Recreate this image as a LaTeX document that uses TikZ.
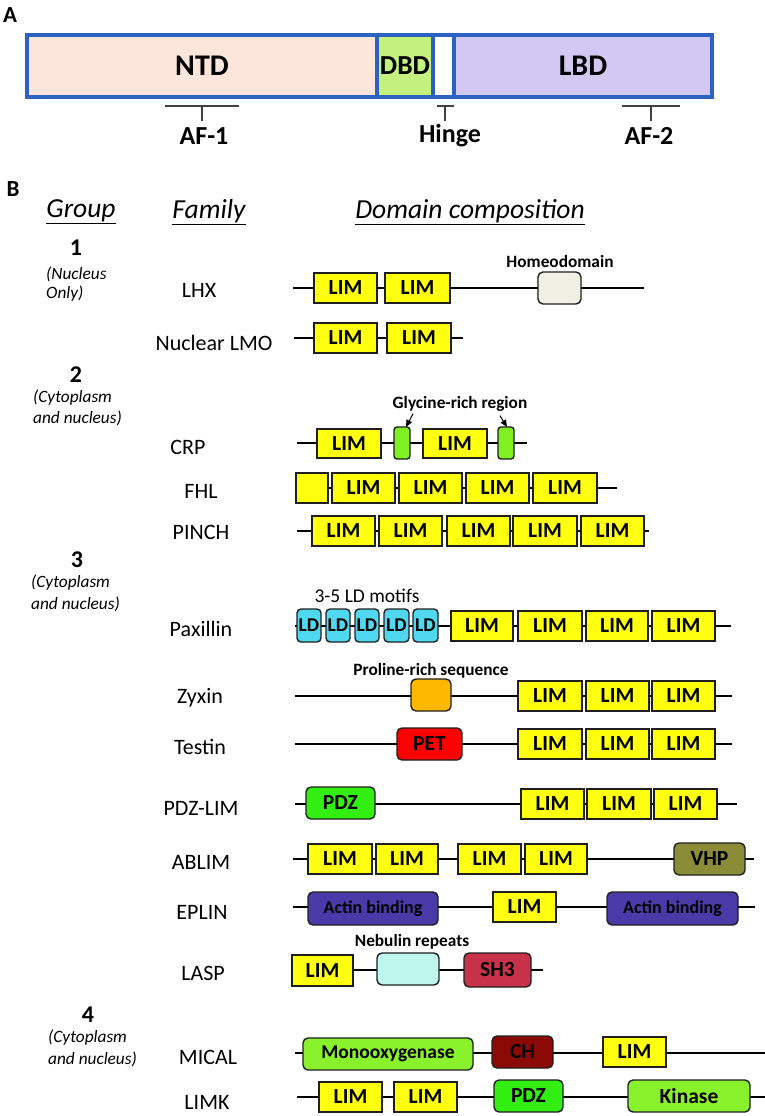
\documentclass[tikz,border=0pt]{standalone}
\usepackage{fontspec}
\setmainfont{Carlito}
\usetikzlibrary{arrows.meta}
\definecolor{limY}{HTML}{FFFF10}
\definecolor{hdC}{HTML}{F0F0E4}
\definecolor{glyG}{HTML}{80F020}
\definecolor{ldC}{HTML}{50D8F0}
\definecolor{proO}{HTML}{FFB800}
\definecolor{petR}{HTML}{FF0000}
\definecolor{pdzG}{HTML}{33EE11}
\definecolor{vhpO}{HTML}{8A8C38}
\definecolor{actI}{HTML}{4A3AA8}
\definecolor{nebC}{HTML}{BFF6EE}
\definecolor{shR}{HTML}{C83248}
\definecolor{monoG}{HTML}{8AF22C}
\definecolor{chR}{HTML}{8C0A06}
\definecolor{ntdC}{HTML}{FCE6DC}
\definecolor{dbdC}{HTML}{C4F07E}
\definecolor{lbdC}{HTML}{D2C8F2}
\definecolor{barB}{HTML}{2E62C0}
\newcommand\fsz[2]{\fontsize{#1}{#2}\selectfont}
\newcommand\dbox[7]{%
  \pgfmathsetmacro\dbcx{(#4+#5)/2}%
  \pgfmathsetmacro\dbcy{(#6+#7)/2}%
  \pgfmathsetmacro\dbw{#5-#4}%
  \pgfmathsetmacro\dbh{#7-#6}%
  \node[#2, minimum width=\dbw pt, minimum height=\dbh pt] (#1) at (\dbcx,\dbcy) {#3};}
\tikzset{
  prot/.style={line width=2pt, black},
  dom/.style={draw=black!88, line width=1.4pt, inner sep=0pt, outer sep=0pt, text=black,
     font=\bfseries\fsz{21.5}{24}},
  lim/.style={dom, fill=limY},
  rdom/.style={dom, rounded corners=5pt},
  seg/.style={draw=barB, line width=3.2pt, inner sep=0pt, outer sep=0pt, font=\bfseries\fsz{30}{34}},
  brk/.style={line width=1.4pt, black!75},
  blab/.style={inner sep=0pt, font=\bfseries\fsz{26}{30}},
  fam/.style={inner sep=0pt, font=\fsz{22}{26}},
  hdr/.style={inner sep=0pt, font=\itshape\fsz{27.5}{32}},
  gnum/.style={inner sep=0pt, font=\bfseries\fsz{24}{28}},
  gtxt/.style={inner sep=0pt, anchor=west, font=\itshape\fsz{17.3}{20}},
  small/.style={inner sep=0pt, font=\bfseries\fsz{17.3}{20}},
  ldbox/.style={rdom, fill=ldC, rounded corners=4pt, font=\bfseries\fsz{19.5}{22}},
  arr/.style={-{Triangle[length=7pt,width=6pt]}, line width=1pt},
  panel/.style={inner sep=0pt, font=\bfseries\fsz{23}{27}}
}
\begin{document}
\begin{tikzpicture}[x=1pt,y=-1pt]
\useasboundingbox (0,0) rectangle (765,1116);
% ---------- Panel A ----------
\node[panel] (pA) at (10,15) {A};
\dbox{ntd}{seg, fill=ntdC}{NTD}{27}{377}{35}{97}
\dbox{dbd}{seg, fill=dbdC, font=\bfseries\fsz{27.5}{32}}{DBD}{377}{433}{35}{97}
\dbox{hng}{seg, fill=white}{}{433}{454}{35}{97}
\dbox{lbd}{seg, fill=lbdC}{LBD}{454}{712}{35}{97}
\coordinate (af1l) at (165,106); \coordinate (af1r) at (239,106);
\coordinate (af1m) at (202,106); \coordinate (af1t) at (202,121);
\draw[brk] (af1l) -- (af1r); \draw[brk] (af1m) -- (af1t);
\node[blab] (af1) at (204,136) {AF-1};
\coordinate (hgl) at (437,106); \coordinate (hgr) at (454,106);
\coordinate (hgm) at (445,106); \coordinate (hgt) at (445,121);
\draw[brk] (hgl) -- (hgr); \draw[brk] (hgm) -- (hgt);
\node[blab] (hinge) at (450,136) {Hinge};
\coordinate (af2l) at (622,106); \coordinate (af2r) at (680,106);
\coordinate (af2m) at (651,106); \coordinate (af2t) at (651,121);
\draw[brk] (af2l) -- (af2r); \draw[brk] (af2m) -- (af2t);
\node[blab] (af2) at (649,136) {AF-2};
% ---------- Panel B headers ----------
\node[panel] (pB) at (13,189) {B};
\node[hdr] (hgrp) at (81,212) {\underline{Group}};
\node[hdr] (hfam) at (209,212) {\underline{Family}};
\node[hdr] (hdom) at (470,212) {\underline{Domain composition}};
% groups
\node[gnum] (g1n) at (76,248) {1};
\node[gtxt] (g1a) at (46,274) {(Nucleus};
\node[gtxt] (g1b) at (46,294) {Only)};
\node[gnum] (g2n) at (76,375) {2};
\node[gtxt] (g2a) at (33,398) {(Cytoplasm};
\node[gtxt] (g2b) at (33,418) {and nucleus)};
\node[gnum] (g3n) at (77,560) {3};
\node[gtxt] (g3a) at (31,583) {(Cytoplasm};
\node[gtxt] (g3b) at (31,604) {and nucleus)};
\node[gnum] (g4n) at (88,1015) {4};
\node[gtxt] (g4a) at (48,1038) {(Cytoplasm};
\node[gtxt] (g4b) at (48,1059) {and nucleus)};
% families
\node[fam] (fLHX) at (199,290) {LHX};
\node[fam] (fLMO) at (214,343) {Nuclear LMO};
\node[fam] (fCRP) at (188,447) {CRP};
\node[fam] (fFHL) at (201,491) {FHL};
\node[fam] (fPIN) at (201,532) {PINCH};
\node[fam] (fPAX) at (201,629) {Paxillin};
\node[fam] (fZYX) at (200,698) {Zyxin};
\node[fam] (fTES) at (200,747) {Testin};
\node[fam] (fPDZ) at (201,808) {PDZ-LIM};
\node[fam] (fABL) at (201,862) {ABLIM};
\node[fam] (fEPL) at (202,912) {EPLIN};
\node[fam] (fLAS) at (203,973) {LASP};
\node[fam] (fMIC) at (208,1057) {MICAL};
\node[fam] (fLIK) at (207,1102) {LIMK};
% ---------- Row LHX ----------
\coordinate (r1s) at (293,288); \coordinate (r1e) at (644,288);
\draw[prot] (r1s) -- (r1e);
\dbox{r1a}{lim}{LIM}{314}{377}{273}{303}
\dbox{r1b}{lim}{LIM}{385}{450}{273}{303}
\dbox{r1h}{rdom, fill=hdC}{}{538}{581}{272}{304}
\node[small] (lhd) at (560,261) {Homeodomain};
% ---------- Row LMO ----------
\coordinate (r2s) at (294,338); \coordinate (r2e) at (463,338);
\draw[prot] (r2s) -- (r2e);
\dbox{r2a}{lim}{LIM}{314}{377}{323}{353}
\dbox{r2b}{lim}{LIM}{387}{451}{323}{353}
% ---------- Row CRP ----------
\coordinate (r3s) at (297,443); \coordinate (r3e) at (527,443);
\draw[prot] (r3s) -- (r3e);
\dbox{r3a}{lim}{LIM}{317}{381}{429}{458}
\dbox{r3g}{rdom, fill=glyG, rounded corners=3pt}{}{394}{410}{427}{459}
\dbox{r3b}{lim}{LIM}{423}{487}{429}{458}
\dbox{r3h}{rdom, fill=glyG, rounded corners=3pt}{}{498}{514}{427}{459}
\node[small] (lgly) at (460,404) {Glycine-rich region};
\draw[arr] ([xshift=-47pt,yshift=-2pt]lgly.south) -- ([xshift=4pt]r3g.north);
\draw[arr] ([xshift=40pt,yshift=-4pt]lgly.south) -- ([xshift=1pt]r3h.north);
% ---------- Row FHL ----------
\coordinate (r4s) at (296,488); \coordinate (r4e) at (617,488);
\draw[prot] (r4s) -- (r4e);
\dbox{r4z}{lim}{}{296}{328}{473}{503}
\dbox{r4a}{lim}{LIM}{332}{395}{473}{503}
\dbox{r4b}{lim}{LIM}{399}{462}{473}{503}
\dbox{r4c}{lim}{LIM}{466}{529}{473}{503}
\dbox{r4d}{lim}{LIM}{533}{597}{473}{503}
% ---------- Row PINCH ----------
\coordinate (r5s) at (297,531); \coordinate (r5e) at (649,531);
\draw[prot] (r5s) -- (r5e);
\dbox{r5a}{lim}{LIM}{312}{375}{516}{546}
\dbox{r5b}{lim}{LIM}{379}{442}{516}{546}
\dbox{r5c}{lim}{LIM}{447}{510}{516}{546}
\dbox{r5d}{lim}{LIM}{513}{577}{516}{546}
\dbox{r5e}{lim}{LIM}{581}{644}{516}{546}
% ---------- Row Paxillin ----------
\coordinate (r6s) at (295,626); \coordinate (r6e) at (731,626);
\draw[prot] (r6s) -- (r6e);
\dbox{r6l1}{ldbox}{LD}{297}{321}{609}{642}
\dbox{r6l2}{ldbox}{LD}{326}{350}{609}{642}
\dbox{r6l3}{ldbox}{LD}{355}{379}{609}{642}
\dbox{r6l4}{ldbox}{LD}{384}{409}{609}{642}
\dbox{r6l5}{ldbox}{LD}{413}{438}{609}{642}
\dbox{r6a}{lim}{LIM}{451}{513}{611}{641}
\dbox{r6b}{lim}{LIM}{518}{582}{611}{641}
\dbox{r6c}{lim}{LIM}{586}{648}{611}{641}
\dbox{r6d}{lim}{LIM}{652}{715}{611}{641}
\node[inner sep=0pt, font=\fsz{19.5}{22}] (lld) at (367,596) {3-5 LD motifs};
% ---------- Row Zyxin ----------
\coordinate (r7s) at (295,696); \coordinate (r7e) at (732,696);
\draw[prot] (r7s) -- (r7e);
\dbox{r7p}{rdom, fill=proO}{}{411}{451}{679}{711}
\dbox{r7a}{lim}{LIM}{518}{582}{681}{711}
\dbox{r7b}{lim}{LIM}{586}{649}{681}{711}
\dbox{r7c}{lim}{LIM}{652}{715}{681}{711}
\node[small] (lpro) at (431,671) {Proline-rich sequence};
% ---------- Row Testin ----------
\coordinate (r8s) at (295,744); \coordinate (r8e) at (732,744);
\draw[prot] (r8s) -- (r8e);
\dbox{r8p}{rdom, fill=petR}{PET}{397}{462}{728}{760}
\dbox{r8a}{lim}{LIM}{518}{582}{729}{759}
\dbox{r8b}{lim}{LIM}{586}{649}{729}{759}
\dbox{r8c}{lim}{LIM}{652}{715}{729}{759}
% ---------- Row PDZ-LIM ----------
\coordinate (r9s) at (295,804); \coordinate (r9e) at (737,804);
\draw[prot] (r9s) -- (r9e);
\dbox{r9p}{rdom, fill=pdzG}{PDZ}{306}{375}{787}{819}
\dbox{r9a}{lim}{LIM}{521}{584}{789}{819}
\dbox{r9b}{lim}{LIM}{587}{651}{789}{819}
\dbox{r9c}{lim}{LIM}{654}{717}{789}{819}
% ---------- Row ABLIM ----------
\coordinate (r10s) at (293,859); \coordinate (r10e) at (754,859);
\draw[prot] (r10s) -- (r10e);
\dbox{r10a}{lim}{LIM}{308}{372}{844}{874}
\dbox{r10b}{lim}{LIM}{376}{438}{844}{874}
\dbox{r10c}{lim}{LIM}{458}{521}{844}{874}
\dbox{r10d}{lim}{LIM}{525}{587}{844}{874}
\dbox{r10v}{rdom, fill=vhpO}{VHP}{674}{745}{843}{875}
% ---------- Row EPLIN ----------
\coordinate (r11s) at (293,907); \coordinate (r11e) at (755,907);
\draw[prot] (r11s) -- (r11e);
\dbox{r11a}{rdom, fill=actI, font=\bfseries\fsz{18}{20}}{Actin binding}{308}{438}{892}{925}
\dbox{r11l}{lim}{LIM}{493}{556}{892}{922}
\dbox{r11b}{rdom, fill=actI, font=\bfseries\fsz{18}{20}}{Actin binding}{607}{738}{892}{925}
% ---------- Row LASP ----------
\coordinate (r12s) at (292,970); \coordinate (r12e) at (543,970);
\draw[prot] (r12s) -- (r12e);
\dbox{r12l}{lim}{LIM}{292}{353}{955}{986}
\dbox{r12n}{rdom, fill=nebC}{}{377}{439}{953}{985}
\dbox{r12s3}{rdom, fill=shR}{SH3}{464}{531}{953}{987}
\node[small] (lneb) at (412,942) {Nebulin repeats};
% ---------- Row MICAL ----------
\coordinate (r13s) at (295,1053); \coordinate (r13e) at (765,1053);
\draw[prot] (r13s) -- (r13e);
\dbox{r13m}{rdom, fill=monoG, font=\bfseries\fsz{19.5}{22}}{Monooxygenase}{303}{473}{1038}{1070}
\dbox{r13c}{rdom, fill=chR}{CH}{492}{553}{1036}{1068}
\dbox{r13l}{lim}{LIM}{603}{666}{1037}{1067}
% ---------- Row LIMK ----------
\coordinate (r14s) at (297,1097); \coordinate (r14e) at (765,1097);
\draw[prot] (r14s) -- (r14e);
\dbox{r14a}{lim}{LIM}{319}{382}{1082}{1112}
\dbox{r14b}{lim}{LIM}{394}{457}{1082}{1112}
\dbox{r14p}{rdom, fill=pdzG}{PDZ}{494}{563}{1080}{1112}
\dbox{r14k}{rdom, fill=monoG}{Kinase}{628}{750}{1080}{1112}
\end{tikzpicture}
\end{document}
